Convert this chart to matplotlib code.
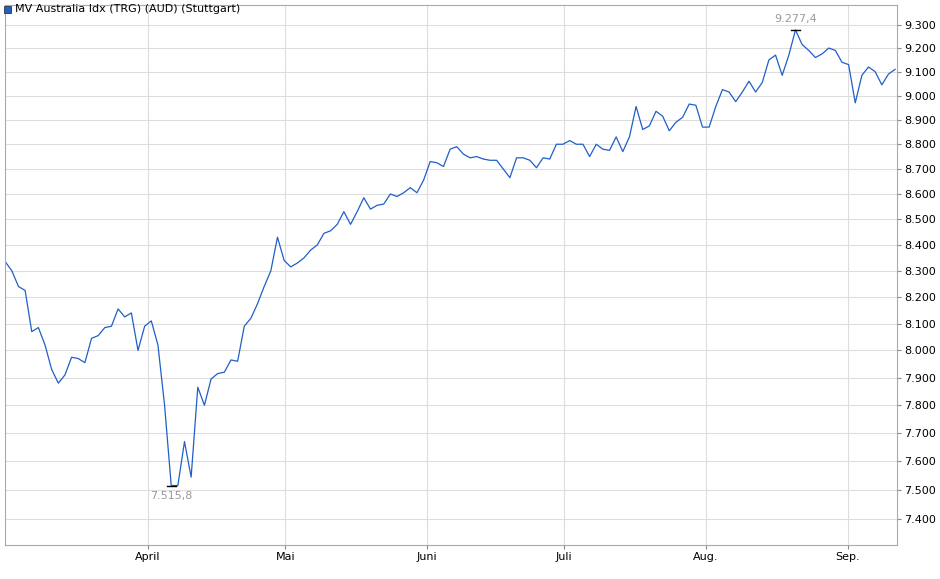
import matplotlib
matplotlib.use("Agg")
import matplotlib.pyplot as plt
import matplotlib.ticker as mticker
import pandas as pd
import numpy as np

values = [8335,8300,8240,8225,8070,8085,8020,7930,7880,7910,7975,7970,7955,8045,8055,8085,8090,8155,8125,8140,
          8000,8090,8110,8020,7800,7515.8,7515.8,7670,7545,7865,7800,7895,7915,7920,7965,7960,8090,8120,8175,8240,
          8300,8430,8340,8315,8330,8350,8380,8400,8445,8455,8480,8530,8480,8530,8585,8540,8555,8560,8600,8590,
          8605,8625,8605,8655,8730,8725,8710,8780,8790,8760,8745,8750,8740,8735,8735,8700,8665,8745,8745,8735,
          8705,8745,8740,8800,8800,8815,8800,8800,8750,8800,8780,8775,8830,8770,8830,8955,8860,8875,8935,8915,
          8855,8890,8910,8965,8960,8870,8870,8955,9025,9015,8975,9015,9060,9015,9055,9150,9170,9085,9170,9277.4,
          9215,9190,9160,9175,9200,9190,9140,9130,8970,9085,9120,9100,9045,9090,9110]
dates = pd.date_range("2023-02-28 18:00", "2023-09-11 08:00", periods=len(values))
month_ticks = pd.to_datetime(["2023-04-01","2023-05-01","2023-06-01","2023-07-01","2023-08-01","2023-09-01"])
month_labels = ["April","Mai","Juni","Juli","Aug.","Sep."]
yticks = list(range(7400, 9301, 100))
title = "MV Australia Idx (TRG) (AUD) (Stuttgart)"

fig = plt.figure(figsize=(9.4,5.79), dpi=100)
ax = fig.add_axes([5/940, 34/579, 892/940, 540/579])
ax.set_yscale("log")
ax.plot(dates, values, color="#1f5fc8", lw=0.9)
ax.set_xlim(pd.Timestamp("2023-02-28 17:00"), pd.Timestamp("2023-09-11 18:00"))
ax.set_ylim(7312, 9385)
ax.yaxis.tick_right()
ax.yaxis.set_minor_locator(mticker.NullLocator())
ax.set_yticks(yticks)
ax.set_yticklabels([f"{v:,}".replace(",", ".") for v in yticks], fontsize=8)
ax.set_xticks(month_ticks)
ax.set_xticklabels(month_labels, fontsize=8)
ax.grid(True, color="#dddddd", lw=0.8)
ax.tick_params(length=3, color="#888888", pad=2)
for s in ax.spines.values():
    s.set_color("#aaaaaa")

imin = int(np.argmin(values)); imax = int(np.argmax(values))
for i, va, off in [(imin, "top", -4), (imax, "bottom", 4)]:
    d = dates[i]
    ax.plot([d - pd.Timedelta(days=1), d + pd.Timedelta(days=1)], [values[i]]*2, color="black", lw=1)
    ax.annotate(f"{values[i]:,.1f}".replace(",", "X").replace(".", ",").replace("X", "."),
                (d, values[i]), xytext=(0, off), textcoords="offset points",
                ha="center", va=va, fontsize=8, color="#999999")

fig.patches.append(plt.Rectangle((4/940, 1-13/579), 7/940, 7/579, transform=fig.transFigure,
                                 facecolor="#1f5fc8", edgecolor="#333333", lw=0.6))
fig.text(15/940, 1-9.5/579, title, fontsize=8, va="center", ha="left")
fig.savefig("out.png", dpi=100)
